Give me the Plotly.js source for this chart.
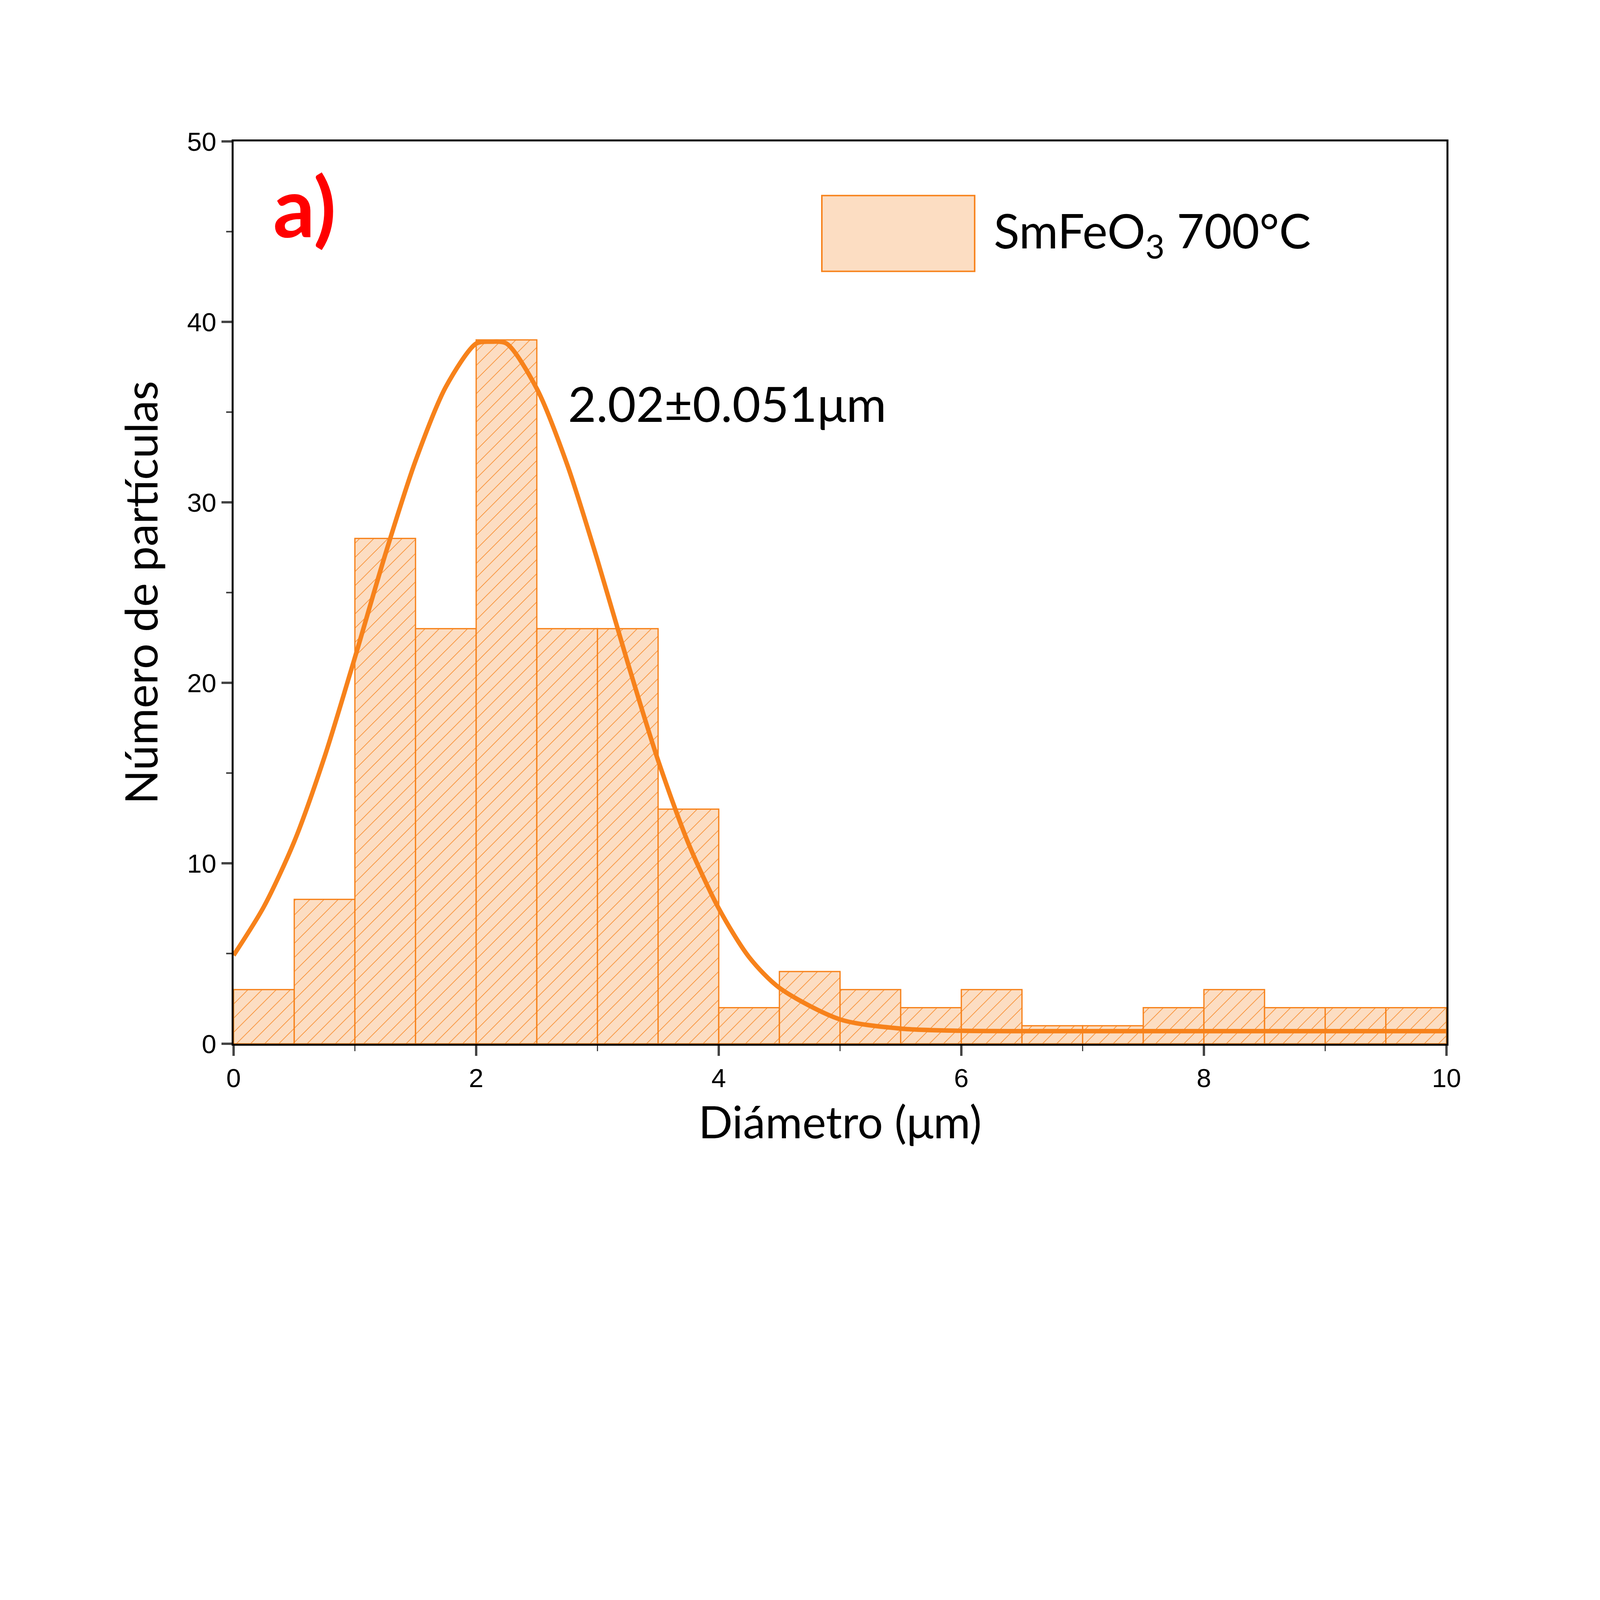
<!DOCTYPE html>
<html>
<head>
<meta charset="utf-8">
<script src="https://cdn.plot.ly/plotly-3.0.1.min.js"></script>
<style>html,body{margin:0;background:#fff;overflow:hidden}#container{width:100vw;height:100vh}</style>
</head>
<body>
<div id="container"></div>
<script>
// histogram bins (centres) and counts
var binCenters = [0.25,0.75,1.25,1.75,2.25,2.75,3.25,3.75,4.25,4.75,5.25,5.75,6.25,6.75,7.25,7.75,8.25,8.75,9.25,9.75];
var counts = [3,8,28,23,39,23,23,13,2,4,3,2,3,1,1,2,3,2,2,2];

// fit curve
var fitX = [0,0.25,0.5,0.75,1,1.25,1.5,1.75,2,2.12,2.25,2.5,2.75,3,3.25,3.5,3.75,4,4.25,4.5,5,5.5,6,7,8,9,10];
var fitY = [4.9,7.6,11.2,15.9,21.4,27.1,32.3,36.4,38.8,38.9,38.8,36.3,32.1,26.8,21.1,15.7,11.1,7.5,4.8,3.1,1.35,0.84,0.72,0.7,0.7,0.7,0.7];

var W = window.innerWidth || 6400, H = window.innerHeight || 4900;
var s = Math.min(W / 6400, H / 4900);
var orange = '#F7821B', peach = '#FCDDC2';
var fam = 'Lato, "Open Sans", sans-serif';

var trace1 = {
  x: binCenters, y: counts, type: 'bar', width: 0.5, showlegend: false,
  marker: {
    color: peach,
    line: {color: orange, width: 5 * s},
    pattern: {shape: '/', fgcolor: orange, bgcolor: peach, size: 40 * s, solidity: 0.06}
  }
};
var trace2 = {
  x: fitX, y: fitY, mode: 'lines', type: 'scatter', showlegend: false,
  line: {color: orange, width: 18 * s, shape: 'spline', smoothing: 0.8}
};
var axisFont = {family: fam, size: 180 * s, color: '#000'};
var tickFont = {family: 'Liberation Sans, Arial, sans-serif', size: 105 * s, color: '#000'};
function axis(range, dtick, minor, title) {
  return {
    range: range, dtick: dtick, ticks: 'outside', ticklen: 40 * s, tickwidth: 8 * s,
    showline: true, linewidth: 8 * s, linecolor: '#000', mirror: true,
    showgrid: false, zeroline: false, tickfont: tickFont,
    minor: {dtick: minor, ticks: 'outside', ticklen: 22 * s, tickwidth: 6 * s, showgrid: false},
    title: {text: title, font: axisFont, standoff: 60 * s}
  };
}
var layout = {
  width: 6400 * s, height: 4900 * s,
  margin: {l: 935 * s, r: 614 * s, t: 566 * s, b: 725 * s},
  paper_bgcolor: '#fff', plot_bgcolor: '#fff',
  bargap: 0, showlegend: false,
  xaxis: axis([0, 10], 2, 1, 'Diámetro (μm)'),
  yaxis: axis([0, 50], 10, 5, 'Número de partículas'),
  shapes: [
    {type: 'rect', xref: 'paper', yref: 'paper', x0: 0.485, x1: 0.611, y0: 0.856, y1: 0.940,
     fillcolor: peach, line: {color: orange, width: 6 * s}}
  ],
  annotations: [
    {xref: 'paper', yref: 'paper', x: 0.626, y: 0.898, xanchor: 'left', yanchor: 'middle',
     text: 'SmFeO<sub>3</sub> 700°C', showarrow: false,
     font: {family: fam, size: 190 * s, color: '#000'}},
    {xref: 'paper', yref: 'paper', x: 0.032, y: 0.985, xanchor: 'left', yanchor: 'top',
     text: '<b>a)</b>', showarrow: false,
     font: {family: fam, size: 330 * s, color: '#FF0000'}},
    {xref: 'x', yref: 'y', x: 2.75, y: 35.5, xanchor: 'left', yanchor: 'middle',
     text: '2.02±0.051μm', showarrow: false,
     font: {family: fam, size: 195 * s, color: '#000'}}
  ]
};
Plotly.newPlot('container', [trace1, trace2], layout, {staticPlot: true});
</script>
</body>
</html>
